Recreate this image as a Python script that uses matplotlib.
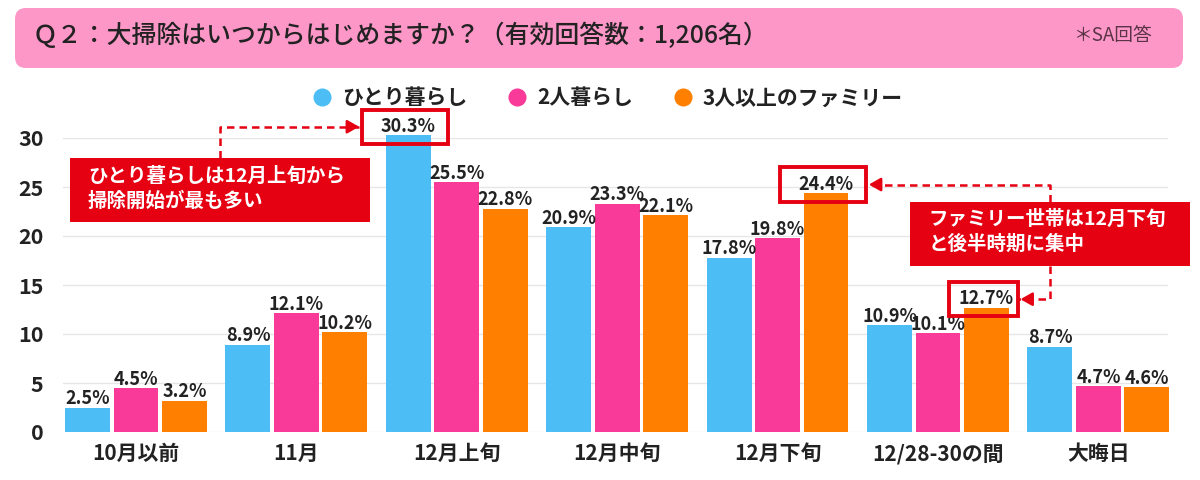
import matplotlib
matplotlib.use("Agg")
import matplotlib.pyplot as plt
import numpy as np
from matplotlib.patches import FancyBboxPatch, Rectangle
from matplotlib.lines import Line2D

plt.rcParams['font.family'] = ['Noto Sans CJK JP', 'DejaVu Sans']

title = "Ｑ２：大掃除はいつからはじめますか？（有効回答数：1,206名）"
note = "＊SA回答"
categories = ["10月以前", "11月", "12月上旬", "12月中旬", "12月下旬", "12/28-30の間", "大晦日"]
series_names = ["ひとり暮らし", "2人暮らし", "3人以上のファミリー"]
single = [2.5, 8.9, 30.3, 20.9, 17.8, 10.9, 8.7]
couple = [4.5, 12.1, 25.5, 23.3, 19.8, 10.1, 4.7]
family = [3.2, 10.2, 22.8, 22.1, 24.4, 12.7, 4.6]
yticks = [0, 5, 10, 15, 20, 25, 30]
# (series index, category index) of the boxed labels
highlights = [(0, 2), (2, 4), (2, 5)]
callout1 = "ひとり暮らしは12月上旬から\n掃除開始が最も多い"
callout2 = "ファミリー世帯は12月下旬\nと後半時期に集中"

colors = ["#4CBEF5", "#F93A98", "#FF8000"]
red = "#E50012"
values = [single, couple, family]

fig = plt.figure(figsize=(12, 4.8), dpi=100)

# header band
hdr = FancyBboxPatch((15 / 1200, 1 - 68 / 480), 1168 / 1200, 60 / 480,
                     boxstyle="round,pad=0,rounding_size=0.009", mutation_aspect=2.5,
                     transform=fig.transFigure, facecolor="#FD97C8", edgecolor="none")
fig.patches.append(hdr)
fig.text(33 / 1200, 1 - 36 / 480, title, fontsize=17.9, fontweight="medium",
         color="#222222", ha="left", va="center")
fig.text(1152 / 1200, 1 - 36 / 480, note, fontsize=13.5, color="#5a3346",
         ha="right", va="center")

ax = fig.add_axes([63 / 1200, 48 / 480, 1105 / 1200, 294 / 480])
x = np.arange(len(categories))
width = 0.28
step = 0.302
offsets = [-step, 0, step]

for i, (vals, col) in enumerate(zip(values, colors)):
    ax.bar(x + offsets[i], vals, width, color=col, zorder=2, clip_on=False)
    for xi, v in zip(x, vals):
        ax.text(xi + offsets[i], v + 0.9, f"{v}%", ha="center", va="center",
                fontsize=13, fontweight="bold", color="#222222", zorder=4, clip_on=False)

# red boxes around highlighted labels
boxes = []
for (si, ci), bw in zip(highlights, [0.54, 0.54, 0.43]):
    v = values[si][ci]
    bx = x[ci] + offsets[si] - 0.02
    r = Rectangle((bx - bw / 2, v - 0.9), bw, 3.5, fill=False, edgecolor=red,
                  linewidth=2.8, zorder=5, clip_on=False)
    ax.add_patch(r)
    boxes.append((bx - bw / 2, bx + bw / 2, v - 0.9 + 1.75))

ax.set_xlim(-0.455, 6.434)
ax.set_ylim(0, 30)
ax.set_yticks(yticks)
ax.set_xticks(x)
ax.set_xticklabels(categories, fontsize=15, fontweight="bold", color="#222222")
ax.tick_params(axis="y", length=0, pad=14, labelsize=15.5, labelcolor="#222222")
ax.tick_params(axis="x", length=0, pad=8)
for lab in ax.get_yticklabels():
    lab.set_fontweight("bold")
for s in ax.spines.values():
    s.set_visible(False)
ax.grid(axis="y", color="#e6e6e6", linewidth=1, zorder=0)
ax.set_axisbelow(True)


def dashed_arrow(pts):
    xs, ys = zip(*pts)
    ax.plot(xs, ys, color=red, linestyle=(0, (3, 2)), linewidth=1.8, zorder=6, clip_on=False)
    back = 0.08 if pts[-2][0] > pts[-1][0] else -0.08
    ax.annotate("", xy=pts[-1], xytext=(pts[-1][0] + back, pts[-1][1]),
                arrowprops=dict(arrowstyle="-|>,head_length=0.7,head_width=0.4", color=red, lw=1.8),
                zorder=7, annotation_clip=False)


# callout 1
ax.add_patch(Rectangle((-0.411, 21.43), 1.87, 6.53, facecolor=red, edgecolor="none",
                       zorder=6, clip_on=False))
ax.text(-0.30, 24.85, callout1, fontsize=14, fontweight="bold", color="white",
        ha="left", va="center", linespacing=1.38, zorder=7)
l0, r0, m0 = boxes[0]
dashed_arrow([(0.524, 27.96), (0.524, m0), (l0, m0)])

# callout 2
ax.add_patch(Rectangle((4.825, 16.94), 1.746, 6.53, facecolor=red, edgecolor="none",
                       zorder=6, clip_on=False))
ax.text(4.94, 20.46, callout2, fontsize=14, fontweight="bold", color="white",
        ha="left", va="center", linespacing=1.38, zorder=7)
l1, r1, m1 = boxes[1]
l2, r2, m2 = boxes[2]
dashed_arrow([(5.698, 23.47), (5.698, m1), (r1, m1)])
dashed_arrow([(5.698, 16.94), (5.698, m2), (r2, m2)])

handles = [Line2D([], [], marker="o", linestyle="none", markersize=13,
                  markerfacecolor=c, markeredgecolor="none") for c in colors]
fig.legend(handles, series_names, loc="center", bbox_to_anchor=(0.506, 1 - 98 / 480),
           ncol=3, frameon=False, handlelength=1.0, handletextpad=0.45, columnspacing=1.9,
           prop={"size": 15, "weight": "bold"}, labelcolor="#222222")

fig.savefig("out.png", dpi=100)
